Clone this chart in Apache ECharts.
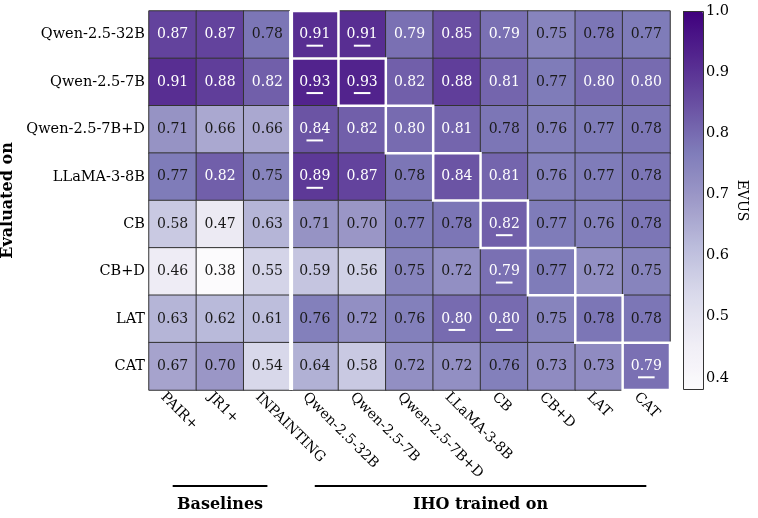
<!DOCTYPE html>
<html><head><meta charset="utf-8">
<script src="https://cdn.jsdelivr.net/npm/echarts@6/dist/echarts.min.js"></script>
<style>html,body{margin:0;padding:0;background:#fff}#c{width:758px;height:518px}</style>
</head><body><div id="c"></div><script>
// ---- data ----
const rowLabels = ['Qwen-2.5-32B','Qwen-2.5-7B','Qwen-2.5-7B+D','LLaMA-3-8B','CB','CB+D','LAT','CAT'];
const colLabels = ['PAIR+','JR1+','INPAINTING','Qwen-2.5-32B','Qwen-2.5-7B','Qwen-2.5-7B+D','LLaMA-3-8B','CB','CB+D','LAT','CAT'];
const rowQwen32 = [0.87,0.87,0.78,0.91,0.91,0.79,0.85,0.79,0.75,0.78,0.77];
const rowQwen7  = [0.91,0.88,0.82,0.93,0.93,0.82,0.88,0.81,0.77,0.80,0.80];
const rowQwen7D = [0.71,0.66,0.66,0.84,0.82,0.80,0.81,0.78,0.76,0.77,0.78];
const rowLlama  = [0.77,0.82,0.75,0.89,0.87,0.78,0.84,0.81,0.76,0.77,0.78];
const rowCB     = [0.58,0.47,0.63,0.71,0.70,0.77,0.78,0.82,0.77,0.76,0.78];
const rowCBD    = [0.46,0.38,0.55,0.59,0.56,0.75,0.72,0.79,0.77,0.72,0.75];
const rowLAT    = [0.63,0.62,0.61,0.76,0.72,0.76,0.80,0.80,0.75,0.78,0.78];
const rowCAT    = [0.67,0.70,0.54,0.64,0.58,0.72,0.72,0.76,0.73,0.73,0.79];
const rows = [rowQwen32,rowQwen7,rowQwen7D,rowLlama,rowCB,rowCBD,rowLAT,rowCAT];
const underlined = [[3,0],[4,0],[3,1],[4,1],[3,2],[3,3],[7,4],[7,5],[6,6],[7,6],[10,7]]; // [col,row]
const diagonal = [[3,0],[4,1],[5,2],[6,3],[7,4],[8,5],[9,6],[10,7]];
const separatorCols = [3];
const groupNames = ['Baselines','IHO trained on'];
const groupFrom = [0,3];
const groupTo = [2,10];
const colorbarTicks = [0.4,0.5,0.6,0.7,0.8,0.9,1.0];
const vmin = 0.38, vmax = 1.0;
const purples = ['#fcfbfd','#efedf5','#dadaeb','#bcbddc','#9e9ac8','#807dba','#6a51a3','#54278f','#3f007d'];

// ---- layout ----
const FONT = '"DejaVu Serif", serif';
const G = {left:149, top:11, width:521, height:379};
const CB = {left:683, top:11, width:20, height:379};

const heatData = [];
rows.forEach((r, ri) => r.forEach((v, ci) => heatData.push([ci, ri, v])));

const chart = echarts.init(document.getElementById('c'), null, {renderer:'canvas'});
chart.setOption({
  animation:false,
  backgroundColor:'#fff',
  grid:[
    {left:G.left, top:G.top, width:G.width, height:G.height, outerBoundsMode:'none', containLabel:false},
    {left:CB.left, top:CB.top, width:CB.width, height:CB.height, outerBoundsMode:'none', containLabel:false}
  ],
  xAxis:[
    {type:'category', gridIndex:0, data:colLabels, position:'bottom',
     axisLine:{show:false}, axisTick:{show:false}, splitLine:{show:false},
     axisLabel:{interval:0, rotate:-45, align:'left', verticalAlign:'top', margin:-5,
       padding:[7,0,0,0],
       fontFamily:FONT, fontSize:14, color:'#000'}},
    {type:'value', gridIndex:1, show:false, min:0, max:1}
  ],
  yAxis:[
    {type:'category', gridIndex:0, data:rowLabels, inverse:true,
     axisLine:{show:false}, axisTick:{show:false}, splitLine:{show:false},
     axisLabel:{margin:4, fontFamily:FONT, fontSize:14.5, color:'#000'},
     name:'Evaluated on', nameLocation:'middle', nameGap:128,
     nameTextStyle:{fontFamily:FONT, fontSize:16, fontWeight:'bold', color:'#000'}},
    {type:'value', gridIndex:1, min:vmin, max:vmax, position:'right',
     axisLine:{show:false}, splitLine:{show:false},
     axisTick:{show:true, length:4, customValues:colorbarTicks, lineStyle:{color:'#333'}},
     axisLabel:{customValues:colorbarTicks, margin:3, fontFamily:FONT, fontSize:14.5, color:'#000',
       formatter:v=>Number(v).toFixed(1)},
     name:'EVUS', nameLocation:'middle', nameRotate:-90, nameGap:32,
     nameTextStyle:{fontFamily:FONT, fontSize:14, color:'#000'}}
  ],
  visualMap:{
    type:'continuous', min:vmin, max:vmax, seriesIndex:0, calculable:false,
    orient:'vertical', left:CB.left, top:CB.top, itemWidth:CB.width, itemHeight:CB.height,
    padding:0, inRange:{color:purples}, showLabel:false
  },
  graphic:[
    {type:'rect', z:100, shape:{x:CB.left+0.5, y:CB.top+0.5, width:CB.width, height:CB.height-1},
     style:{fill:'none', stroke:'#333', lineWidth:1}}
  ],
  series:[
    {type:'heatmap', xAxisIndex:0, yAxisIndex:0, data:heatData,
     itemStyle:{borderColor:'#333', borderWidth:1},
     emphasis:{disabled:true},
     label:{show:true,
       formatter:p=>{const v=p.value[2]; return (v>=0.785?'{w|':'{k|')+v.toFixed(2)+'}';},
       rich:{w:{color:'#fff', fontFamily:FONT, fontSize:14},
             k:{color:'#1a1a1a', fontFamily:FONT, fontSize:14}}}},
    {type:'custom', xAxisIndex:0, yAxisIndex:0, z:5, silent:true,
     data:separatorCols.map(c=>[c,0]),
     renderItem:(params, api)=>{
       const p = api.coord([api.value(0), 0]); const s = api.size([1,1]);
       const cs = params.coordSys; const x = p[0]-s[0]/2;
       return {type:'line', shape:{x1:x, y1:cs.y, x2:x, y2:cs.y+cs.height},
               style:{stroke:'#fff', lineWidth:4}};
     }},
    {type:'custom', xAxisIndex:0, yAxisIndex:0, z:6, silent:true,
     data:diagonal,
     renderItem:(params, api)=>{
       const p = api.coord([api.value(0), api.value(1)]); const s = api.size([1,1]);
       return {type:'rect', shape:{x:p[0]-s[0]/2, y:p[1]-s[1]/2, width:s[0], height:s[1]},
               style:{fill:'none', stroke:'#fff', lineWidth:2.5}};
     }},
    {type:'custom', xAxisIndex:0, yAxisIndex:0, z:7, silent:true,
     data:underlined,
     renderItem:(params, api)=>{
       const p = api.coord([api.value(0), api.value(1)]);
       return {type:'line', shape:{x1:p[0]-8.3, y1:p[1]+11, x2:p[0]+8.3, y2:p[1]+11},
               style:{stroke:'#fff', lineWidth:2}};
     }},
    {type:'custom', xAxisIndex:0, yAxisIndex:0, z:7, silent:true, clip:false,
     data:groupNames.map((n,i)=>[groupFrom[i], groupTo[i], i]),
     renderItem:(params, api)=>{
       const a = api.coord([api.value(0), 0]); const b = api.coord([api.value(1), 0]);
       const cs = params.coordSys; const y = cs.y + cs.height + 96;
       return {type:'group', children:[
         {type:'line', shape:{x1:a[0], y1:y, x2:b[0], y2:y}, style:{stroke:'#000', lineWidth:2}},
         {type:'text', style:{x:(a[0]+b[0])/2, y:y+19, text:groupNames[api.value(2)],
           align:'center', verticalAlign:'middle', fontFamily:FONT, fontSize:16, fontWeight:'bold', fill:'#000'}}
       ]};
     }}
  ]
});
</script></body></html>
